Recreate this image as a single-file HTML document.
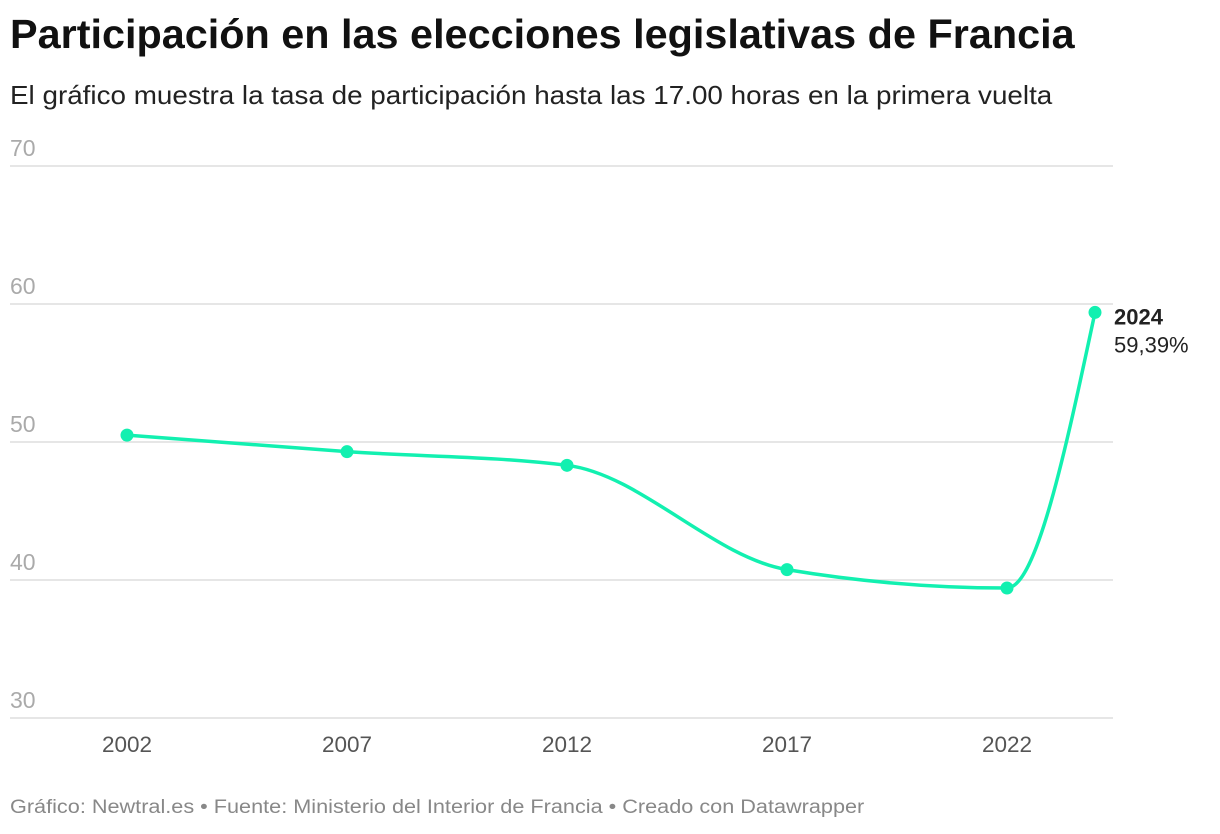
<!DOCTYPE html>
<html><head><meta charset="utf-8">
<style>
body{margin:0;background:#fff;width:1220px;height:834px;overflow:hidden;font-family:"Liberation Sans",sans-serif;}
.t{position:absolute;left:10px;margin:0;white-space:nowrap;transform-origin:0 0;}
h1.t{top:11px;font-size:41px;font-weight:bold;color:#111;transform:scaleX(1.009);}
.sub{top:80px;font-size:26px;color:#222;transform:scaleX(1.07);}
.foot{top:797px;font-size:19px;color:#888;transform:scaleX(1.14);}
svg{position:absolute;left:0;top:0;}
</style></head><body>
<h1 class="t">Participación en las elecciones legislativas de Francia</h1>
<div class="t sub">El gráfico muestra la tasa de participación hasta las 17.00 horas en la primera vuelta</div>
<svg id="chart" width="1220" height="834"></svg>
<div class="t foot">Gráfico: Newtral.es • Fuente: Ministerio del Interior de Francia • Creado con Datawrapper</div>
<script>
const years=[2002,2007,2012,2017,2022,2024];
const values=[50.5,49.3,48.31,40.75,39.42,59.39];
const yTicks=[30,40,50,60,70];
const xTicks=[2002,2007,2012,2017,2022];
const NS="http://www.w3.org/2000/svg";
const svg=document.getElementById('chart');
const x=v=>127+(v-2002)*44;
const y=v=>718-(v-30)*13.8;
function mk(t,a,p){const e=document.createElementNS(NS,t);for(const k in a)e.setAttribute(k,a[k]);(p||svg).appendChild(e);return e;}
yTicks.forEach(t=>{
 const g=mk('line',{x1:10,x2:1113,y1:y(t),y2:y(t),stroke:'#ddd','stroke-width':1.5});
 
 
 const l=mk('text',{x:10,y:y(t)-10,'font-size':23,fill:'#aaa'});l.textContent=t;
 
 
});
xTicks.forEach(t=>{
 const l=mk('text',{x:x(t),y:752,'font-size':22.5,fill:'#555','text-anchor':'middle'});l.textContent=t;
 
 
});
const px=years.map(x),py=values.map(y),n=px.length;
const d=[],m=[];
for(let i=0;i<n-1;i++)d.push((py[i+1]-py[i])/(px[i+1]-px[i]));
for(let i=0;i<n;i++){
 if(i==0)m.push(d[0]);else if(i==n-1)m.push(d[n-2]);
 else{ if(d[i-1]*d[i]<=0)m.push(0); else{const h0=px[i]-px[i-1],h1=px[i+1]-px[i];const p=(d[i-1]*h1+d[i]*h0)/(h0+h1);m.push((Math.sign(d[i-1])+Math.sign(d[i]))*Math.min(Math.abs(d[i-1]),Math.abs(d[i]),0.5*Math.abs(p)));}}
}
m[0]=(3*d[0]-m[1])/2;
m[n-1]=(3*d[n-2]-m[n-2])/2;
let path='M'+px[0]+','+py[0];
for(let i=0;i<n-1;i++){const h=(px[i+1]-px[i])/3;path+=` C${px[i]+h},${py[i]+h*m[i]} ${px[i+1]-h},${py[i+1]-h*m[i+1]} ${px[i+1]},${py[i+1]}`;}
const ln=mk('path',{d:path,fill:'none',stroke:'#12f0b0','stroke-width':3.5});


years.forEach((yr,i)=>{
 const c=mk('circle',{cx:x(yr),cy:y(values[i]),r:6.5,fill:'#12f0b0'});
 
 
});
const li=n-1;
const a=mk('text',{x:x(years[li])+19,y:y(values[li])+12,'font-size':22,'font-weight':'bold',fill:'#222'});a.textContent=years[li];


const b=mk('text',{x:x(years[li])+19,y:y(values[li])+40,'font-size':22,fill:'#222'});b.textContent=values[li].toFixed(2).replace('.',',')+'%';


</script>
</body></html>
